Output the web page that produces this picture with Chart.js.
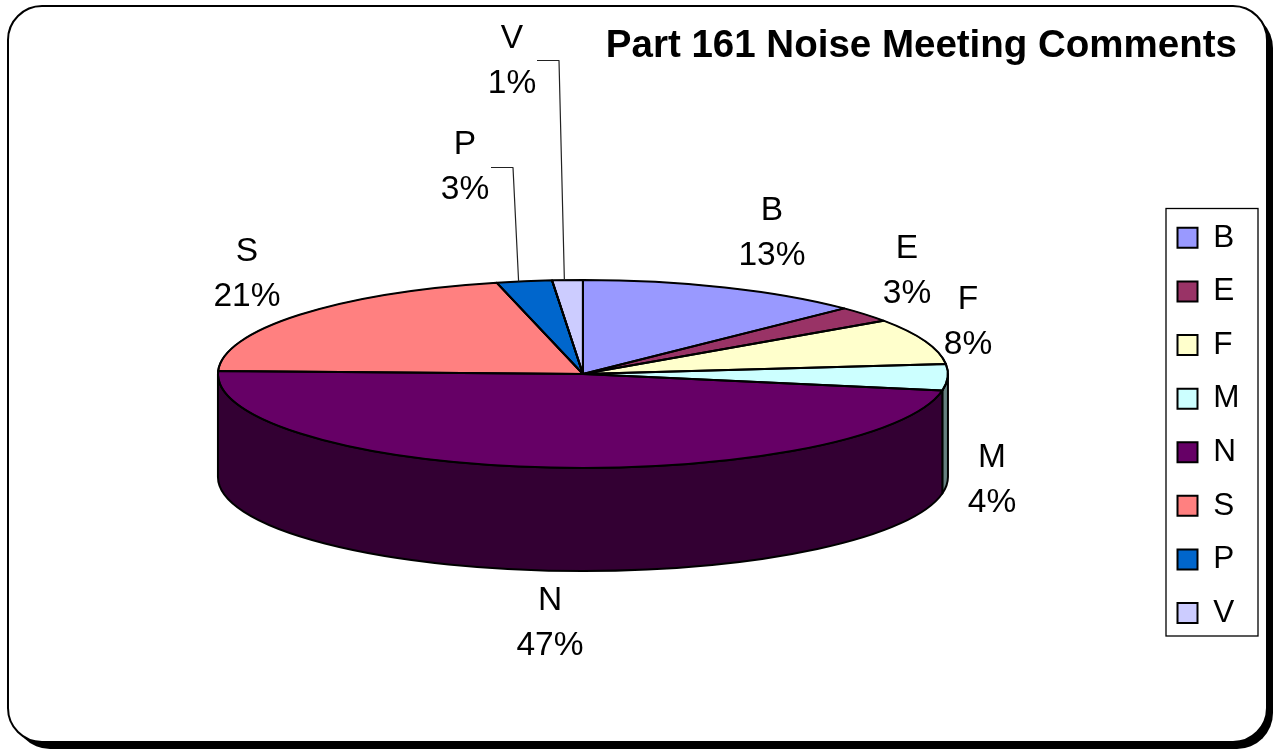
<!DOCTYPE html>
<html>
<head>
<meta charset="utf-8">
<style>html,body{margin:0;padding:0;background:#fff}canvas{display:block}</style>
<script src="https://cdn.jsdelivr.net/npm/chart.js@4/dist/chart.umd.min.js"></script>
</head>
<body>
<canvas id="c" width="1273" height="749"></canvas>
<script>
const categories = ['B','E','F','M','N','S','P','V'];
const values = [12.7,2.7,7.9,4.5,47.7,20.7,2.45,1.35];
const percentLabels = ['13%','3%','8%','4%','47%','21%','3%','1%'];
const topColors = ['#9999FF','#993366','#FFFFCC','#CCFFFF','#660066','#FF8080','#0066CC','#CCCCFF'];
const wallColors = ['#4D4D80','#4D1A33','#808066','#668080','#330033','#804040','#003366','#666680'];
const labelCenters = [[772,233.5],[907,271.5],[968,322.5],[992,480.5],[550,623.5],[247,274.5],[465,167.5],[512,61]];
const leaderElbows = {6:[[491,167.5],[513,167.5]],7:[[537,60.5],[559,60.5]]};
const FONT = '"Liberation Sans", Arial, sans-serif';
const SQUASH = 94/365, DEPTH = 103, LABEL_SIZE = 33.5, LABEL_GAP = 22.7;

function roundedPath(ctx,x,y,w,h,r){
  ctx.beginPath();
  ctx.moveTo(x+r,y);ctx.arcTo(x+w,y,x+w,y+h,r);ctx.arcTo(x+w,y+h,x,y+h,r);
  ctx.arcTo(x,y+h,x,y,r);ctx.arcTo(x,y,x+w,y,r);ctx.closePath();
}
const pie3d = {
  id:'pie3d',
  beforeInit(chart){ chart.legend.afterFit = function(){ this.width = 92; }; },
  afterLayout(chart){
    const l = chart.legend;
    l.left = 1155.4; l.right = 1258; l.top = 200; l.bottom = 749;
    const t = chart.titleBlock;
    t.left = 500; t.right = 1237;
  },
  beforeDraw(chart){
    const ctx = chart.ctx;
    ctx.save();
    ctx.fillStyle='#fff';ctx.fillRect(0,0,1273,749);
    // drop shadow, then the frame
    roundedPath(ctx,14,12,1259,737,36);ctx.fillStyle='#000';ctx.fill();
    roundedPath(ctx,8,6,1259,736,34);ctx.fillStyle='#fff';ctx.fill();
    ctx.lineWidth=2;ctx.strokeStyle='#000';ctx.stroke();
    // legend box
    ctx.lineWidth=1.3;ctx.strokeStyle='#000';
    ctx.strokeRect(1166,208.5,92,427.5);
    ctx.restore();
  },
  beforeDatasetsDraw(chart){
    const ctx = chart.ctx, arcs = chart.getDatasetMeta(0).data;
    ctx.save();
    ctx.lineWidth=2;ctx.strokeStyle='#000';ctx.lineJoin='round';
    arcs.forEach((arc,i)=>{
      const p = arc.getProps(['x','y','startAngle','endAngle','outerRadius']);
      const a = Math.max(p.startAngle,0), b = Math.min(p.endAngle,Math.PI);
      if(b<=a) return;
      const ry = p.outerRadius*SQUASH;
      ctx.beginPath();
      ctx.ellipse(p.x,p.y,p.outerRadius,ry,0,a,b,false);
      ctx.ellipse(p.x,p.y+DEPTH,p.outerRadius,ry,0,b,a,true);
      ctx.closePath();
      ctx.fillStyle=wallColors[i];ctx.fill();ctx.stroke();
    });
    ctx.restore();
    const c = arcs[0];
    ctx.save();
    ctx.translate(c.x,c.y);ctx.scale(1,SQUASH);ctx.translate(-c.x,-c.y);
  },
  afterDatasetsDraw(chart){
    const ctx = chart.ctx, arcs = chart.getDatasetMeta(0).data;
    ctx.restore();
    ctx.save();
    ctx.lineWidth=2;ctx.strokeStyle='#000';ctx.lineJoin='round';
    arcs.forEach(arc=>{
      const p = arc.getProps(['x','y','startAngle','endAngle','outerRadius']);
      ctx.beginPath();
      ctx.moveTo(p.x,p.y);
      ctx.ellipse(p.x,p.y,p.outerRadius,p.outerRadius*SQUASH,0,p.startAngle,p.endAngle,false);
      ctx.closePath();ctx.stroke();
    });
    // leader lines from the label to the slice
    ctx.lineWidth=1.2;ctx.strokeStyle='#222';
    Object.keys(leaderElbows).forEach(k=>{
      const p = arcs[k].getProps(['x','y','startAngle','endAngle','outerRadius']);
      const ang = p.startAngle+0.4*(p.endAngle-p.startAngle);
      const pts = leaderElbows[k];
      ctx.beginPath();ctx.moveTo(pts[0][0],pts[0][1]);ctx.lineTo(pts[1][0],pts[1][1]);
      ctx.lineTo(p.x+p.outerRadius*Math.cos(ang),p.y+p.outerRadius*SQUASH*Math.sin(ang));
      ctx.stroke();
    });
    // data labels
    ctx.fillStyle='#000';ctx.font=LABEL_SIZE+'px '+FONT;ctx.textAlign='center';ctx.textBaseline='middle';
    categories.forEach((name,i)=>{
      const [x,y]=labelCenters[i];
      ctx.fillText(name,x,y-LABEL_GAP);
      ctx.fillText(percentLabels[i],x,y+LABEL_GAP);
    });
    ctx.restore();
  }
};
new Chart(document.getElementById('c'),{
  type:'pie',
  data:{labels:categories,datasets:[{
    data:values,backgroundColor:topColors,borderColor:'#000',borderWidth:2,radius:365,clip:false
  }]},
  options:{
    responsive:false,animation:false,devicePixelRatio:1,
    events:[],
    layout:{padding:{left:2,right:15,top:0,bottom:70.2}},
    plugins:{
      tooltip:{enabled:false},
      title:{display:true,text:'Part 161 Noise Meeting Comments',align:'end',color:'#000',
        font:{family:FONT,size:38.5,weight:'bold',lineHeight:1.2},padding:{top:23,bottom:0}},
      legend:{display:true,position:'right',align:'start',
        labels:{boxWidth:20,boxHeight:20,padding:22.1,color:'#000',font:{family:FONT,size:31.5}}}
    }
  },
  plugins:[pie3d]
});
</script>
</body>
</html>
